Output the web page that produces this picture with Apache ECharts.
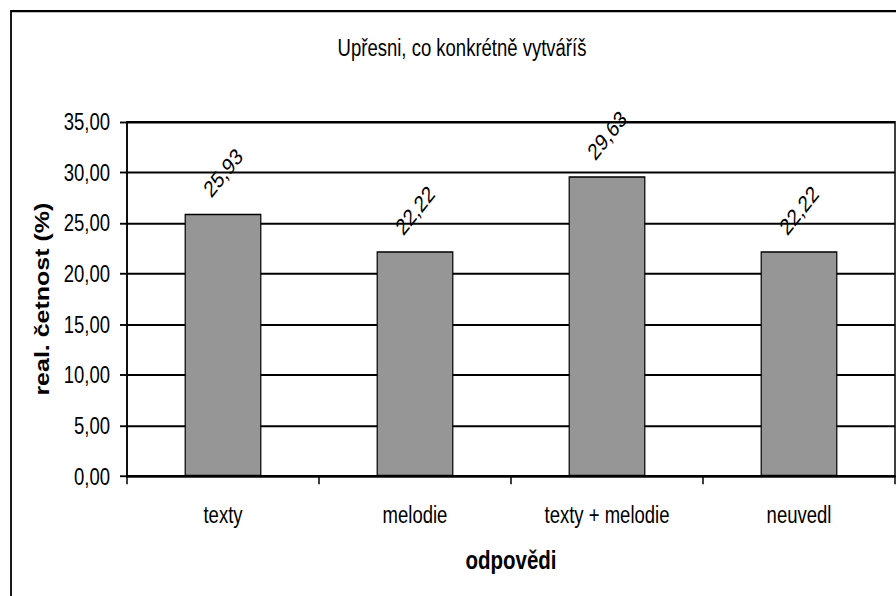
<!DOCTYPE html>
<html>
<head>
<meta charset="utf-8">
<style>
    html, body { margin: 0; padding: 0; background: #fff; width: 896px; height: 596px; }
    /* the source picture is stretched vertically, so draw flat and stretch the whole chart */
    #chart { width: 896px; height: 476.8px; transform: scaleY(1.25); transform-origin: 0 0; }
</style>
<script src="https://cdn.jsdelivr.net/npm/echarts@6/dist/echarts.min.js"></script>
</head>
<body>
<div id="chart"></div>
<script>
    var categories = ['texty', 'melodie', 'texty + melodie', 'neuvedl'];
    var values = [25.93, 22.22, 29.63, 22.22];
    var titleText = 'Upřesni, co konkrétně vytváříš';
    var yName = 'real. četnost (%)';
    var xName = 'odpovědi';

    var font = "'Liberation Sans', Arial, sans-serif";

    function comma(v){
        return v.toFixed(2).replace('.', ',');
    }

    var Chart = echarts.init(document.getElementById('chart'), null, { renderer: 'svg' });
    Chart.setOption({
        animation: false,
        title: {
            text: titleText,
            left: 457,
            top: 24,
            textAlign: 'center',
            textStyle: { fontFamily: font, fontSize: 18.5, fontWeight: 'normal', color: '#000' }
        },
        graphic: [{
            type: 'rect',
            shape: { x: 11, y: 8.8, width: 900, height: 600 },
            style: { fill: 'none', stroke: '#000', lineWidth: 1.8 },
            silent: true
        }],
        grid: {
            left: 127, top: 97.6, right: 1, bottom: 96,
            show: true, borderColor: '#000', borderWidth: 1.5, backgroundColor: 'transparent'
        },
        xAxis: {
            type: 'category',
            data: categories,
            name: xName,
            nameLocation: 'middle',
            nameGap: 57,
            nameTextStyle: { fontFamily: font, fontSize: 20.5, fontWeight: 'bold', color: '#000' },
            axisLine: { lineStyle: { color: '#000', width: 1.8 } },
            axisTick: { show: true, length: 6.4, lineStyle: { color: '#000', width: 1.5 } },
            axisLabel: { interval: 0, fontFamily: font, fontSize: 18.5, color: '#000', margin: 21 }
        },
        yAxis: {
            type: 'value',
            min: 0, max: 35, interval: 5,
            name: yName,
            nameLocation: 'middle',
            nameGap: 72,
            nameTextStyle: { fontFamily: font, fontSize: 20, fontWeight: 'bold', color: '#000' },
            axisLine: { show: true, lineStyle: { color: '#000', width: 1.5 } },
            axisTick: { show: true, length: 7, lineStyle: { color: '#000', width: 1.5 } },
            axisLabel: { fontFamily: font, fontSize: 18.5, color: '#000', margin: 17, formatter: comma },
            splitLine: { lineStyle: { color: '#000', width: 1.5 } }
        },
        series: [{
            type: 'bar',
            data: values,
            barWidth: '40%',
            itemStyle: { color: '#969696', borderColor: '#000', borderWidth: 1.2 },
            label: {
                show: true,
                position: 'top',
                distance: 33,
                rotate: 45,
                align: 'center',
                verticalAlign: 'middle',
                fontFamily: font,
                fontSize: 18.5,
                color: '#000',
                formatter: function(p){ return comma(p.value); }
            }
        }]
    });
</script>
</body>
</html>
